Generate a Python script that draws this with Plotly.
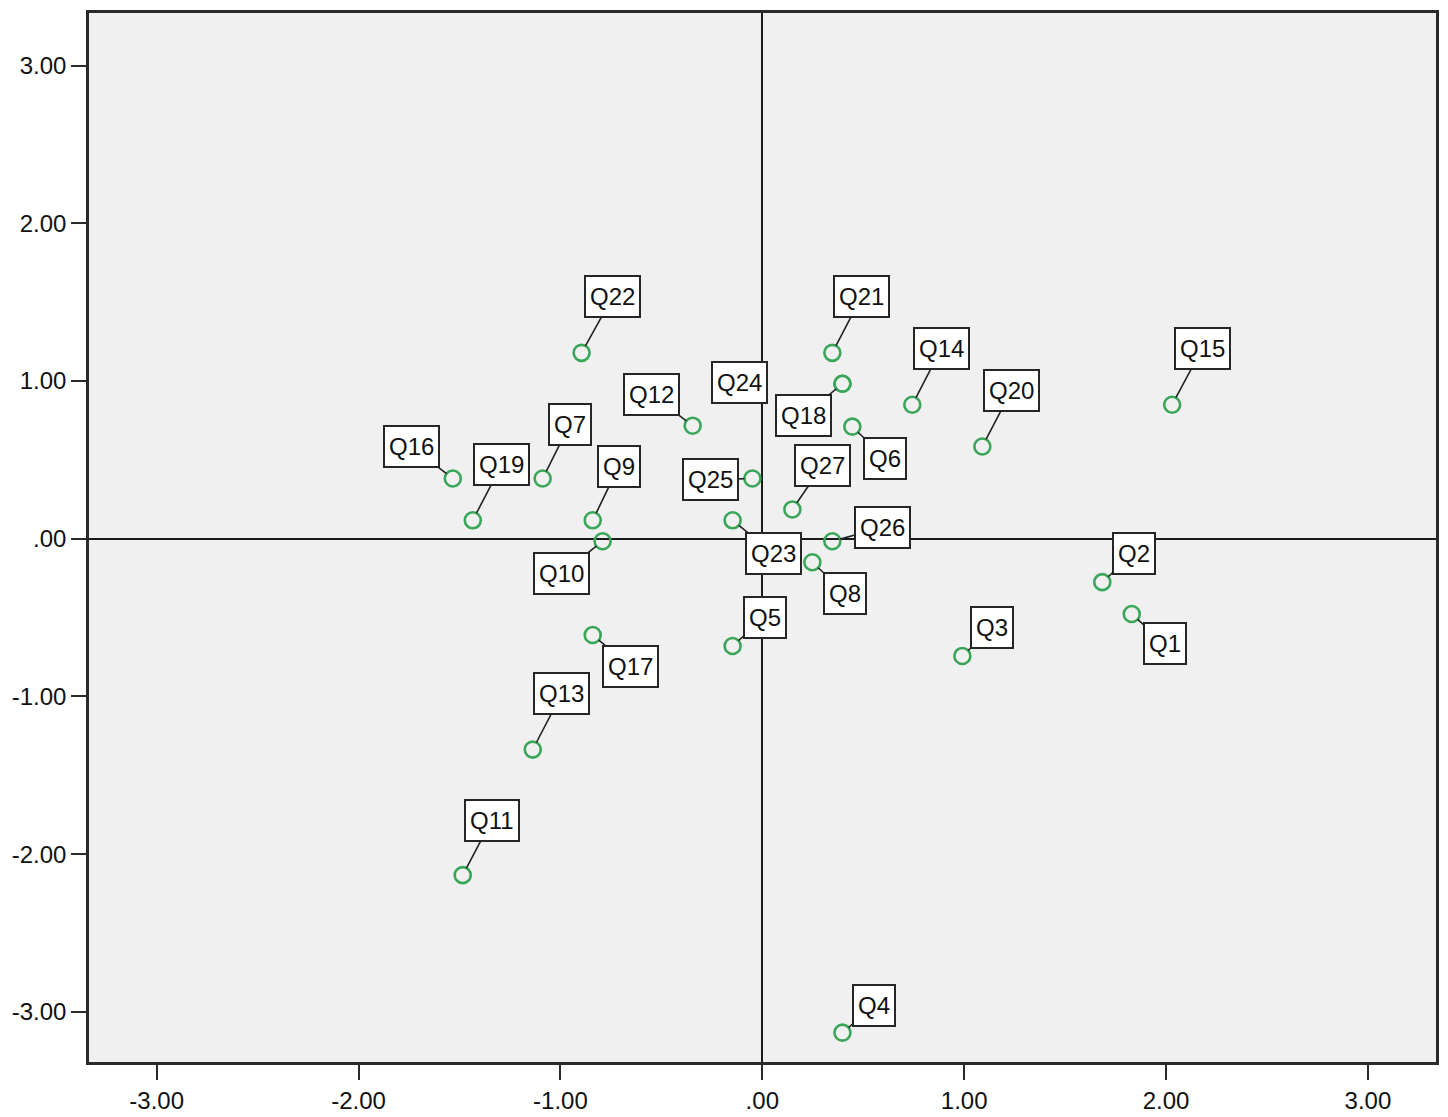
import plotly.graph_objects as go

# ---- data ----
labels = ["Q1", "Q2", "Q3", "Q4", "Q5", "Q6", "Q7", "Q8", "Q9", "Q10",
          "Q11", "Q12", "Q13", "Q14", "Q15", "Q16", "Q17", "Q18", "Q19", "Q20",
          "Q21", "Q22", "Q23", "Q24", "Q25", "Q26", "Q27"]
dim1 = [1.83, 1.684, 0.991, 0.397, -0.147, 0.446, -1.088, 0.248, -0.84, -0.791,
        -1.484, -0.345, -1.137, 0.743, 2.03, -1.533, -0.84, 0.397, -1.434, 1.09,
        0.347, -0.895, -0.147, 0.397, -0.049, 0.347, 0.149]
dim2 = [-0.477, -0.275, -0.743, -3.132, -0.68, 0.711, 0.382, -0.149, 0.117, -0.016,
        -2.133, 0.717, -1.337, 0.85, 0.85, 0.382, -0.61, 0.983, 0.117, 0.585,
        1.179, 1.179, 0.117, 0.983, 0.382, -0.016, 0.186]
tick_vals = [-3, -2, -1, 0, 1, 2, 3]
tick_text = ["-3.00", "-2.00", "-1.00", ".00", "1.00", "2.00", "3.00"]

# ---- label placement (pixel offsets of label boxes from their points) ----
label_offsets = {
    "Q1": (33, 30), "Q2": (32, -29), "Q3": (30, -28), "Q4": (32, -27),
    "Q5": (32, -29), "Q6": (33, 32), "Q7": (27, -54), "Q8": (33, 31),
    "Q9": (26, -54), "Q10": (-41, 32), "Q11": (29, -55), "Q12": (-41, -31),
    "Q13": (29, -56), "Q14": (29, -56), "Q15": (30, -56), "Q16": (-41, -32),
    "Q17": (38, 32), "Q18": (-39, 32), "Q19": (29, -56), "Q20": (29, -56),
    "Q21": (29, -56), "Q22": (31, -56), "Q23": (41, 33), "Q24": (-103, -1),
    "Q25": (-42, 1), "Q26": (50, -14), "Q27": (30, -44),
}

FONT = "Arial, Liberation Sans, sans-serif"
GREEN = "#3aa65a"

fig = go.Figure()
fig.add_trace(go.Scatter(
    x=dim1, y=dim2, mode="markers", text=labels,
    marker=dict(symbol="circle-open", size=16, color=GREEN,
                line=dict(color=GREEN, width=2.6)),
    hoverinfo="text", showlegend=False,
))

annotations = []
for lab, xv, yv in zip(labels, dim1, dim2):
    ax, ay = label_offsets[lab]
    annotations.append(dict(
        x=xv, y=yv, xref="x", yref="y", text=lab,
        showarrow=True, ax=ax, ay=ay, axref="pixel", ayref="pixel",
        arrowhead=0, arrowwidth=1.6,
        arrowcolor="rgba(0,0,0,0)" if lab == "Q24" else "#222222",
        standoff=8, height=31,
        font=dict(family=FONT, size=24, color="#111111"),
        bgcolor="white", bordercolor="#262626", borderwidth=2, borderpad=4,
    ))

axis_common = dict(
    showgrid=False, zeroline=True, zerolinecolor="#1a1a1a", zerolinewidth=1.6,
    showline=True, linecolor="#2a2a2a", linewidth=2.5, mirror=True,
    ticks="outside", ticklen=15, tickwidth=2, tickcolor="#2a2a2a",
    tickmode="array", tickvals=tick_vals, ticktext=tick_text,
    tickfont=dict(family=FONT, size=24, color="#111111"),
)

fig.update_layout(
    width=1440, height=1109,
    margin=dict(l=81, r=12, t=2, b=55),
    paper_bgcolor="white", plot_bgcolor="#f0f0f0",
    xaxis=dict(range=[-3.335, 3.337], **axis_common),
    yaxis=dict(range=[-3.318, 3.334], **axis_common),
    annotations=annotations,
    showlegend=False,
)

fig.write_html("out.html")
